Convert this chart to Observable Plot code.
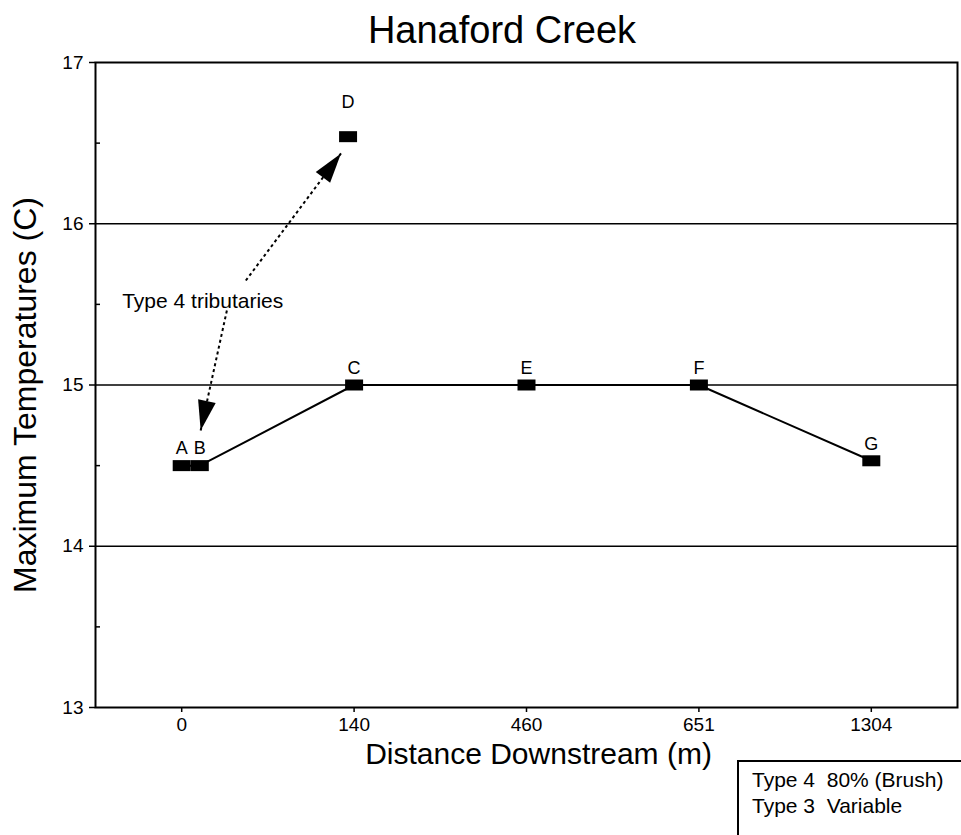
<!DOCTYPE html>
<html>
<head>
<meta charset="utf-8">
<script src="https://cdn.jsdelivr.net/npm/d3@7"></script>
<script src="https://cdn.jsdelivr.net/npm/@observablehq/plot@0.6"></script>
<style>
  body { margin: 0; background: #fff; font-family: "Liberation Sans", Arial, sans-serif; }
  #wrap { position: relative; width: 961px; height: 835px; overflow: hidden; background: #fff; }
  #title { position: absolute; left: 0; top: 11px; width: 1004px; text-align: center; font-size: 38px; line-height: 38px; color: #000; z-index: 2; }
  #legend { position: absolute; left: 737px; top: 760px; width: 300px; height: 100px; border: 2px solid #000; padding: 5px 0 0 13px; font-size: 21px; line-height: 26px; color: #000; background: #fff; z-index: 2; white-space: pre; }
  #chart { position: absolute; left: 0; top: 0; }
</style>
</head>
<body>
<div id="wrap">
  <div id="title"></div>
  <div id="chart"></div>
  <div id="legend"></div>
</div>
<script>
// ---- data ----
const chartTitle = "Hanaford Creek";
const xLabel = "Distance Downstream (m)";
const yLabel = "Maximum Temperatures (C)";
const distanceTicks = ["0", "140", "460", "651", "1304"];   // categorical tick labels (positions 0..4)
const distancePositions = [0, 1, 2, 3, 4];
const tempTicks = [13, 14, 15, 16, 17];
const tempMinorTicks = [13.5, 14.5, 15.5, 16.5];
const gridTemps = [14, 15, 16];

const siteLabels = ["A", "B", "C", "D", "E", "F", "G"];
const sitePos    = [0, 0.105, 1, 0.965, 2, 3, 4];
const siteTemp   = [14.5, 14.5, 15.0, 16.54, 15.0, 15.0, 14.53];
const profileOrder = ["A", "B", "C", "E", "F", "G"];

const noteText = "Type 4 tributaries";
const notePos = [0.122, 15.52];
const arrowFrom = [[0.372, 15.648], [0.262, 15.462]];
const arrowTo   = [[0.924, 16.436], [0.11, 14.718]];
const arrowRotate = [37, 192];

const legendLines = ["Type 4  80% (Brush)", "Type 3  Variable"];

// ---- tables ----
const sites = siteLabels.map((label, i) => ({label, x: sitePos[i], y: siteTemp[i]}));
const profile = profileOrder.map(l => sites.find(s => s.label === l));
const arrows = arrowFrom.map((f, i) => ({x1: f[0], y1: f[1], x2: arrowTo[i][0], y2: arrowTo[i][1], rot: arrowRotate[i]}));

const markerSymbol = { draw(ctx) { ctx.rect(-9, -5.5, 18, 11); } };
const headSymbol = { draw(ctx) { ctx.moveTo(0, 0); ctx.lineTo(9, 30); ctx.lineTo(-9, 30); ctx.closePath(); } };

const plot = Plot.plot({
  width: 961,
  height: 835,
  marginTop: 62,
  marginLeft: 95,
  marginRight: 4,
  marginBottom: 128,
  style: { fontFamily: "'Liberation Sans', Arial, sans-serif", fontSize: "19px", color: "#000", background: "#fff", overflow: "visible" },
  x: { type: "linear", domain: [-0.5, 4.5] },
  y: { domain: [13, 17] },
  marks: [
    Plot.ruleY(gridTemps, { stroke: "#000", strokeWidth: 1.6 }),
    Plot.frame({ stroke: "#000", strokeWidth: 2 }),
    Plot.axisY({ ticks: tempTicks, tickSize: 6, tickPadding: 6, tickFormat: d => String(d), label: null, fontSize: 19, strokeWidth: 1.5 }),
    Plot.axisY({ ticks: tempMinorTicks, tickSize: -5, text: null, label: null, strokeWidth: 1.5 }),
    Plot.axisX({ ticks: distancePositions, tickSize: 5, tickPadding: 5, tickFormat: i => distanceTicks[i], label: null, fontSize: 19, strokeWidth: 1.5 }),
    Plot.text([xLabel], { frameAnchor: "bottom", dx: 12, dy: 56, fontSize: 30, text: d => d }),
    Plot.text([yLabel], { frameAnchor: "left", textAnchor: "middle", dx: -70, dy: 10, rotate: -90, fontSize: 32, text: d => d }),
    Plot.line(profile, { x: "x", y: "y", stroke: "#000", strokeWidth: 2 }),
    Plot.dot(sites, { x: "x", y: "y", symbol: markerSymbol, fill: "#000", stroke: null }),
    Plot.text(sites.filter(s => s.label !== "D"), { x: "x", y: "y", text: "label", dy: -17, fontSize: 18 }),
    Plot.text(sites.filter(s => s.label === "D"), { x: "x", y: "y", text: "label", dy: -34, fontSize: 18 }),
    Plot.link(arrows, { x1: "x1", y1: "y1", x2: "x2", y2: "y2", stroke: "#000", strokeWidth: 2, strokeDasharray: "3,3" }),
    Plot.dot(arrows, { x: "x2", y: "y2", symbol: headSymbol, rotate: "rot", fill: "#000", stroke: null }),
    Plot.text([noteText], { x: () => notePos[0], y: () => notePos[1], text: d => d, fontSize: 21 })
  ]
});

document.getElementById("chart").appendChild(plot);
document.getElementById("title").textContent = chartTitle;
document.getElementById("legend").textContent = legendLines.join("\n");
</script>
</body>
</html>
